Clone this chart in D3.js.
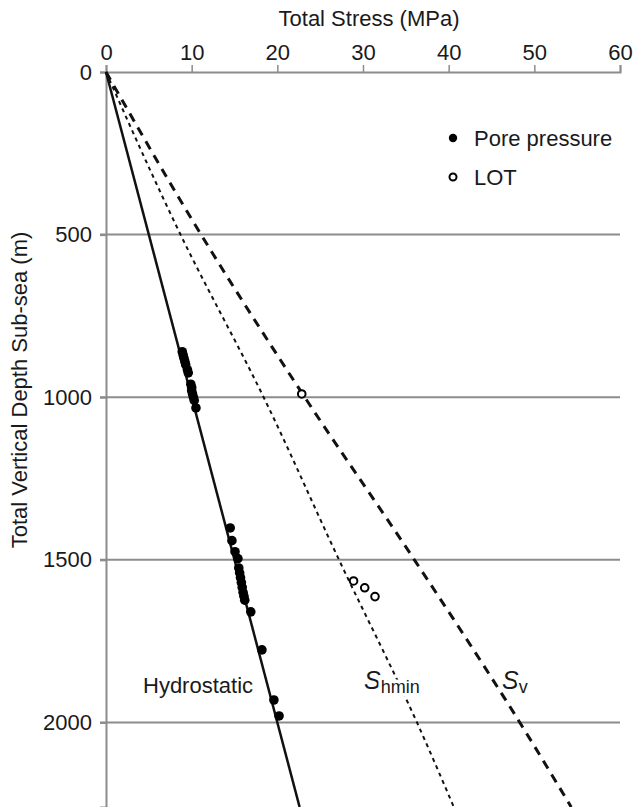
<!DOCTYPE html>
<html>
<head>
<meta charset="utf-8">
<script src="https://d3js.org/d3.v7.min.js"></script>
<style>
  body { margin: 0; background: #fff; }
  text { font-family: "Liberation Sans", Arial, sans-serif; fill: #1a1a1a; }
</style>
</head>
<body>
<svg width="636" height="807"></svg>
<script>
// stress ticks (MPa) and depth ticks (m)
var stressTicks = [0, 10, 20, 30, 40, 50, 60];
var depthTicks = [0, 500, 1000, 1500, 2000];

// pore pressure measurements [stress MPa, depth m]
var porePressure = [
  [8.9, 860], [9.0, 870], [9.1, 880], [9.2, 890], [9.3, 900], [9.5, 915], [9.6, 925],
  [9.9, 960], [10.0, 970], [10.0, 980], [10.1, 990], [10.2, 1000], [10.3, 1010], [10.5, 1033],
  [14.5, 1402], [14.7, 1441], [15.06, 1475], [15.4, 1496], [15.5, 1525], [15.6, 1540],
  [15.7, 1555], [15.8, 1570], [15.9, 1585], [16.0, 1600], [16.1, 1612], [16.2, 1624],
  [16.9, 1660], [18.2, 1777], [19.6, 1931], [20.2, 1980]
];

// leak-off tests [stress MPa, depth m]
var lot = [[22.85, 990], [28.9, 1565], [30.2, 1586], [31.4, 1613]];

// gradient lines [stress MPa, depth m]
var hydrostatic = [[0, 0], [22.6, 2260]];
var shmin = [[0, 0], [8.7, 500], [18.4, 1000], [27.2, 1500], [36.3, 2000], [40.6, 2260]];
var sv = [[0, 0], [11.1, 500], [23.2, 1000], [36.0, 1500], [48.3, 2000], [54.3, 2260]];

var svg = d3.select("svg");

var xs = d3.scaleLinear().domain([0, 60]).range([106, 620]);
var ys = d3.scaleLinear().domain([0, 2260]).range([72, 807]);

var grey = "#8c8c8c";
var font = "'Liberation Sans', Arial, sans-serif";

// gridlines for depth
svg.append("g").selectAll("line")
   .data(depthTicks.filter(function(d) { return d > 0; }))
   .enter().append("line")
   .attr("x1", 100).attr("x2", xs(60))
   .attr("y1", function(d) { return ys(d); })
   .attr("y2", function(d) { return ys(d); })
   .style("stroke", grey).style("stroke-width", 2);

// top axis
var xAxis = svg.append("g")
   .attr("transform", "translate(0," + ys(0) + ")")
   .call(d3.axisTop(xs).tickValues(stressTicks).tickFormat(d3.format("d"))
           .tickSizeOuter(0).tickSize(7).tickPadding(5));
xAxis.select(".domain").style("stroke", grey).style("stroke-width", 2);
xAxis.selectAll(".tick line").style("stroke", grey).style("stroke-width", 1.5);
xAxis.selectAll("text").style("font-size", "22px").style("fill", "#1a1a1a").style("font-family", font);

// left axis
var yAxis = svg.append("g")
   .attr("transform", "translate(" + xs(0) + ",0)")
   .call(d3.axisLeft(ys).tickValues(depthTicks).tickFormat(d3.format("d"))
           .tickSizeOuter(0).tickSize(6).tickPadding(8));
yAxis.select(".domain").style("stroke", grey).style("stroke-width", 2);
yAxis.selectAll(".tick line").style("stroke", grey).style("stroke-width", 2);
yAxis.selectAll("text").style("font-size", "22px").style("fill", "#1a1a1a").style("font-family", font);

// axis titles
svg.append("text")
   .attr("x", 369).attr("y", 26)
   .style("text-anchor", "middle").style("font-size", "22px")
   .text("Total Stress (MPa)");

svg.append("text")
   .attr("transform", "translate(27,390) rotate(-90)")
   .style("text-anchor", "middle").style("font-size", "22px")
   .text("Total Vertical Depth Sub-sea (m)");

// lines
var line = d3.line()
   .x(function(d) { return xs(d[0]); })
   .y(function(d) { return ys(d[1]); })
   .curve(d3.curveMonotoneY);

svg.append("path").datum(sv).attr("d", line)
   .style("fill", "none").style("stroke", "#111").style("stroke-width", 3)
   .style("stroke-dasharray", "9,7");

svg.append("path").datum(shmin).attr("d", line)
   .style("fill", "none").style("stroke", "#111").style("stroke-width", 2)
   .style("stroke-dasharray", "4,4");

svg.append("path").datum(hydrostatic).attr("d", line)
   .style("fill", "none").style("stroke", "#111").style("stroke-width", 2.5);

// pore pressure points
svg.append("g").selectAll("circle")
   .data(porePressure)
   .enter().append("circle")
   .attr("cx", function(d) { return xs(d[0]); })
   .attr("cy", function(d) { return ys(d[1]); })
   .attr("r", 4.8)
   .style("fill", "#000");

// LOT points
svg.append("g").selectAll("circle")
   .data(lot)
   .enter().append("circle")
   .attr("cx", function(d) { return xs(d[0]); })
   .attr("cy", function(d) { return ys(d[1]); })
   .attr("r", 3.8)
   .style("fill", "#fff").style("stroke", "#000").style("stroke-width", 2);

// legend
svg.append("circle").attr("cx", 453).attr("cy", 138).attr("r", 4.2).style("fill", "#000");
svg.append("text").attr("x", 474).attr("y", 146).style("font-size", "22px").text("Pore pressure");
svg.append("circle").attr("cx", 453).attr("cy", 177).attr("r", 3.5)
   .style("fill", "#fff").style("stroke", "#000").style("stroke-width", 2);
svg.append("text").attr("x", 474).attr("y", 185).style("font-size", "22px").text("LOT");

// line labels (white halo hides the dashed line behind them)
svg.append("text").attr("x", 143).attr("y", 693).style("font-size", "22px").text("Hydrostatic");

var sh = svg.append("text").attr("x", 364).attr("y", 689).style("font-size", "25px")
   .style("stroke", "#fff").style("stroke-width", 7).style("paint-order", "stroke")
   .style("stroke-linejoin", "round");
sh.append("tspan").style("font-style", "italic").text("S");
sh.append("tspan").attr("dy", 4).style("font-size", "18px").text("hmin");

var svl = svg.append("text").attr("x", 502).attr("y", 689).style("font-size", "25px")
   .style("stroke", "#fff").style("stroke-width", 4).style("paint-order", "stroke");
svl.append("tspan").style("font-style", "italic").text("S");
svl.append("tspan").attr("dy", 4).style("font-size", "18px").text("v");
</script>
</body>
</html>
